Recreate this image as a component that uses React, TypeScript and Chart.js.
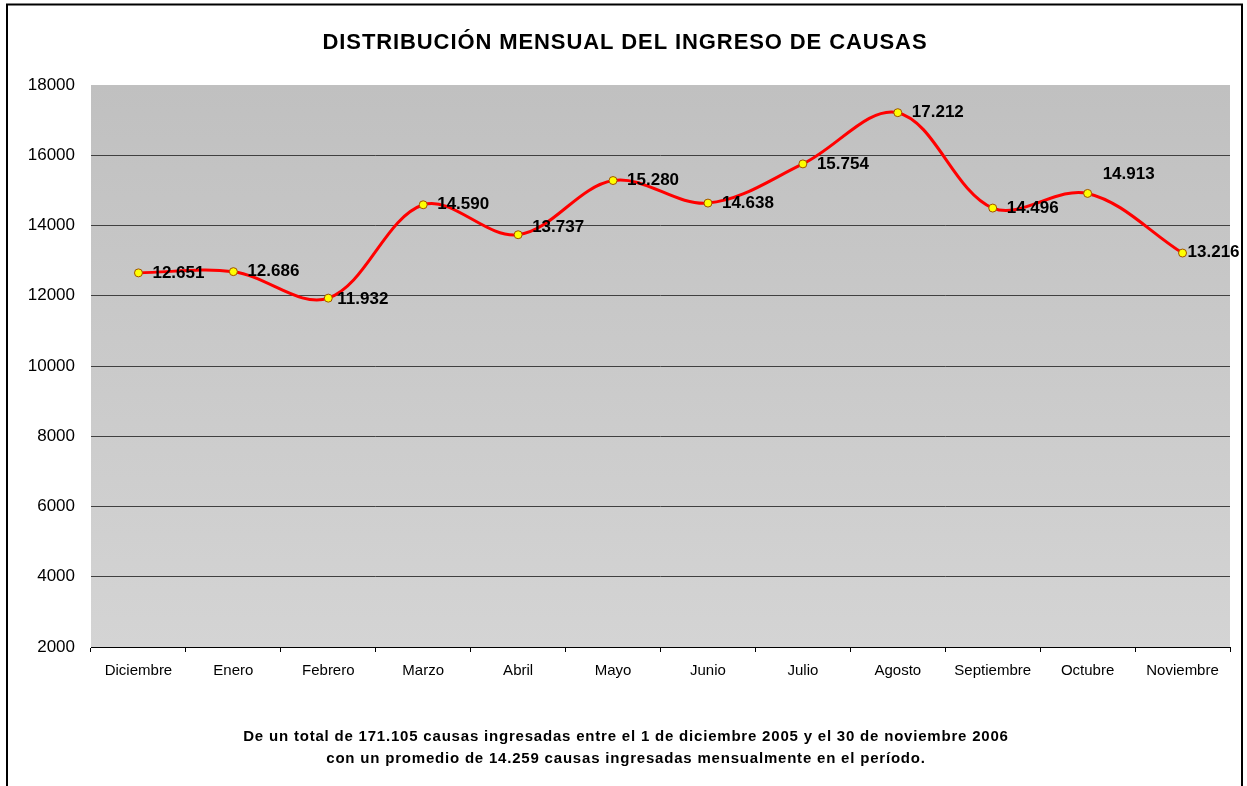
import { useEffect, useRef } from 'react';
import { Chart, registerables } from 'chart.js';

Chart.register(...registerables);

const categories = ['Diciembre', 'Enero', 'Febrero', 'Marzo', 'Abril', 'Mayo', 'Junio', 'Julio', 'Agosto', 'Septiembre', 'Octubre', 'Noviembre'];
const ingresos = [12651, 12686, 11932, 14590, 13737, 15280, 14638, 15754, 17212, 14496, 14913, 13216];
const yMin = 2000;
const yMax = 18000;
const yStep = 2000;
const title = 'DISTRIBUCIÓN MENSUAL DEL INGRESO DE CAUSAS';
const footnoteLines = [
  'De un total de 171.105 causas ingresadas entre el 1 de diciembre 2005 y el 30 de noviembre 2006',
  'con un promedio de 14.259 causas ingresadas mensualmente en el período.',
];

const FONT = "'Liberation Sans', Arial, Helvetica, sans-serif";

const fmt = (v: number) => String(v).replace(/\B(?=(\d{3})+(?!\d))/g, '.');

// label offsets (dx, dy) relative to each point, styling only
const labelShift: Record<number, [number, number]> = {
  2: [9, 1],
  4: [14, -7],
  10: [15, -19],
  11: [5, -1],
};

const decorPlugin = {
  id: 'decor',
  beforeDraw(chart: any) {
    const { ctx, chartArea } = chart;
    ctx.save();
    ctx.fillStyle = '#FFFFFF';
    ctx.fillRect(0, 0, chart.width, chart.height);
    const g = ctx.createLinearGradient(0, chartArea.top, 0, chartArea.bottom);
    g.addColorStop(0, '#C0C0C0');
    g.addColorStop(1, '#D4D4D4');
    ctx.fillStyle = g;
    ctx.fillRect(chartArea.left, chartArea.top, chartArea.right - chartArea.left, chartArea.bottom - chartArea.top);
    // frame
    ctx.strokeStyle = '#000';
    ctx.lineWidth = 2;
    ctx.beginPath();
    ctx.moveTo(7, 900);
    ctx.lineTo(7, 4.5);
    ctx.lineTo(1242, 4.5);
    ctx.lineTo(1242, 900);
    ctx.stroke();
    // title
    ctx.fillStyle = '#000';
    ctx.textAlign = 'center';
    ctx.textBaseline = 'middle';
    ctx.font = `bold 22px ${FONT}`;
    (ctx as any).letterSpacing = '0.9px';
    ctx.fillText(title, 625, 43);
    // footnote
    ctx.font = `bold 15px ${FONT}`;
    (ctx as any).letterSpacing = '0.8px';
    ctx.fillText(footnoteLines[0], 626, 737);
    ctx.fillText(footnoteLines[1], 626, 759);
    (ctx as any).letterSpacing = '0px';
    ctx.restore();
  },
  afterDatasetsDraw(chart: any) {
    const { ctx } = chart;
    const meta = chart.getDatasetMeta(0);
    ctx.save();
    ctx.fillStyle = '#000';
    ctx.font = `bold 17px ${FONT}`;
    ctx.textAlign = 'left';
    ctx.textBaseline = 'middle';
    meta.data.forEach((pt: any, i: number) => {
      const [dx, dy] = labelShift[i] || [14, 0];
      ctx.fillText(fmt(ingresos[i]), pt.x + dx, pt.y + dy);
    });
    ctx.restore();
  },
};

export default function App() {
  const ref = useRef<HTMLCanvasElement>(null);
  useEffect(() => {
    Chart.defaults.font.family = FONT;
    const chart = new Chart(ref.current!, {
      type: 'line',
      data: {
        labels: categories,
        datasets: [
          {
            data: ingresos,
            borderColor: '#FF0000',
            borderWidth: 3,
            tension: 0.35,
            pointRadius: 4,
            pointBackgroundColor: '#FFFF00',
            pointBorderColor: '#A05000',
            pointBorderWidth: 1,
            clip: false as any,
          },
        ],
      },
      options: {
        responsive: false,
        animation: false,
        layout: { padding: { left: 0, right: 17, top: 85, bottom: 99 } },
        plugins: {
          legend: { display: false },
          tooltip: { enabled: false },
          title: { display: false },
        },
        scales: {
          x: {
            offset: true,
            grid: { offset: true, drawOnChartArea: false, tickLength: 5, color: '#000' },
            border: { color: '#000', width: 1 },
            ticks: { color: '#000', font: { size: 15, family: FONT }, padding: 10, maxRotation: 0, autoSkip: false },
            afterFit: (s: any) => {
              s.height = 40;
            },
          },
          y: {
            min: yMin,
            max: yMax,
            ticks: {
              stepSize: yStep,
              color: '#000',
              font: { size: 17, family: FONT },
              padding: 16,
              callback: (v: any) => String(v),
            },
            grid: {
              drawTicks: false,
              color: (c: any) => (c.tick && c.tick.value === yMax ? 'rgba(0,0,0,0)' : '#404040'),
              lineWidth: 1,
            },
            border: { display: false },
            afterFit: (s: any) => {
              s.width = 91;
            },
          },
        },
      },
      plugins: [decorPlugin],
    });
    return () => chart.destroy();
  }, []);
  return (
    <canvas
      ref={ref}
      width={1247}
      height={786}
      style={{ position: 'fixed', left: 0, top: 0, width: 1247, height: 786 }}
    />
  );
}
